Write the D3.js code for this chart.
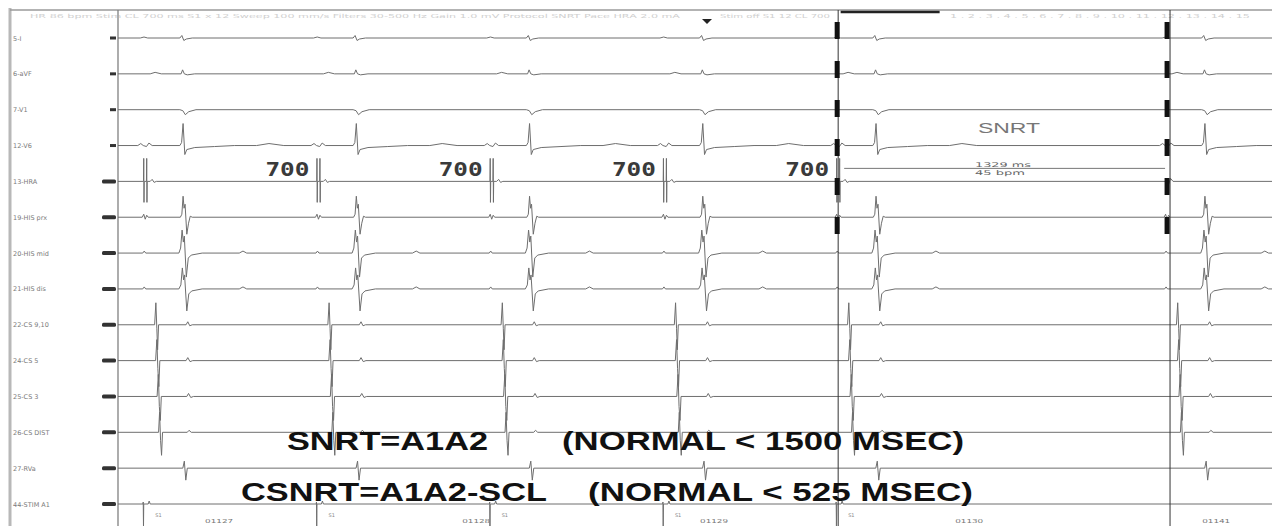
<!DOCTYPE html>
<html><head><meta charset="utf-8">
<script src="https://cdn.jsdelivr.net/npm/d3@7"></script>
<style>html,body{margin:0;padding:0;background:#fff;overflow:hidden}svg{display:block}</style>
</head><body>
<svg id="c" width="1272" height="526"></svg>
<script>
// ---------------- DATA ----------------
const channels = ["5-I","6-aVF","7-V1","12-V6","13-HRA","19-HIS prx","20-HIS mid","21-HIS dis",
  "22-CS 9,10","24-CS 5","25-CS 3","26-CS DIST","27-RVa","44-STIM A1"];
const stimTimes = [0, 700, 1400, 2100, 2800];      // ms, paced S1 beats
const sinusTimes = [4129];                          // ms, first recovery beat
const pacedIntervals = ["700","700","700","700"];
const snrtMs = 1329, snrtBpm = 45;
const counterTimes = [242, 1281, 2242, 3273, 4271];
const counterLabels = ["01127","01128","01129","01130","01141"];
const timeDomain = [-110, 4553];

// waveform templates: [ms after beat, amplitude]
const tplI    = [[-20,0],[-5,1],[10,0],[140,0],[148,2.5],[156,-2.5],[166,-1],[190,0]];
const tplAVF  = [[20,0],[40,1.5],[65,0],[145,0],[151,4],[158,0],[170,-1],[200,0]];
const tplV1   = [[140,0],[152,-1],[162,-5],[176,-2],[205,0]];
const tplV6   = [[-30,0],[-18,2],[-8,0],[5,-1],[15,2.5],[28,0],[140,0],[147,3],[153,22],[160,-9],[168,-4],[200,-2],[280,-1],[360,0],[450,0],[500,2],[560,0]];
const tplHRAp = [[-7,0],[-6,23],[-5,-21],[-4,0],[5,0],[6,23],[7,-21],[8,0],[20,0],[28,2],[36,-1],[45,0]];
const tplHRAs = [[-5,0],[5,-4],[14,3],[24,0]];
const tplHisP = [[-12,0],[-6,3],[0,-2],[6,2],[12,0],[142,0],[148,3],[153,21],[157,9],[161,13],[168,-17],[175,-6],[182,1],[190,0]];
const tplHisM = [[-10,0],[-4,2],[2,0],[136,0],[143,5],[149,23],[154,11],[158,17],[166,-24],[174,-5],[186,-2],[230,0],[380,0],[395,2],[410,0]];
const tplHisD = [[-10,0],[-4,2],[2,0],[136,0],[144,4],[150,21],[155,9],[159,14],[168,-22],[176,-5],[188,-2],[230,0],[380,0],[395,2],[410,0]];
const tplCS9  = [[38,0],[43,22],[47,-4],[50,-25],[54,0],[165,0],[172,3],[180,-1],[190,0]];
const tplCS5  = [[42,0],[47,21],[51,-8],[55,-26],[59,0],[165,0],[172,3],[181,-1],[192,0]];
const tplCS3  = [[48,0],[53,22],[57,-10],[61,-24],[65,0],[168,0],[175,3],[184,-1],[195,0]];
const tplCSd  = [[54,0],[58,20],[62,-8],[66,-23],[70,0],[170,0],[177,2],[186,0]];
const tplRVa  = [[152,0],[158,7],[164,-12],[170,0]];
const tplStim = [[-9,0],[-8,2],[-7,-23],[-6,0],[12,0],[16,3],[20,0]];
const tplNone = [];

const pacedTpl = [tplI,tplAVF,tplV1,tplV6,tplHRAp,tplHisP,tplHisM,tplHisD,tplCS9,tplCS5,tplCS3,tplCSd,tplRVa,tplStim];
const sinusTpl = [tplI,tplAVF,tplV1,tplV6,tplHRAs,tplHisP,tplHisM,tplHisD,tplCS9,tplCS5,tplCS3,tplCSd,tplRVa,tplNone];

// ---------------- DRAW ----------------
const svg = d3.select("#c");
const x = d3.scaleLinear().domain(timeDomain).range([118, 1272]);
const y = d3.scalePoint().domain(channels).range([38, 504]);
const amp = d3.scaleLinear().domain([-30, 30]).range([30, -30]);

// frame
svg.append("line").attr("x1",10).attr("x2",10).attr("y1",8).attr("y2",526).attr("stroke","#b8b8b8").attr("stroke-width",3);
svg.append("line").attr("x1",10).attr("x2",1272).attr("y1",10).attr("y2",10).attr("stroke","#9a9a9a").attr("stroke-width",1.5);
svg.append("line").attr("x1",118).attr("x2",118).attr("y1",10).attr("y2",526).attr("stroke","#808080").attr("stroke-width",1.3);

// header faint text
const hdr = svg.append("g").attr("opacity",0.55);
hdr.append("text").attr("x",30).attr("y",18).attr("font-family","DejaVu Sans").attr("font-size",5.5)
  .attr("fill","#aaa").attr("textLength",650).attr("lengthAdjust","spacingAndGlyphs")
  .text("HR 86 bpm   Stim CL 700 ms   S1 x 12   Sweep 100 mm/s   Filters 30-500 Hz   Gain 1.0 mV   Protocol SNRT   Pace HRA 2.0 mA");
hdr.append("text").attr("x",720).attr("y",18).attr("font-family","DejaVu Sans").attr("font-size",5.5)
  .attr("fill","#aaa").attr("textLength",110).attr("lengthAdjust","spacingAndGlyphs").text("Stim off  S1 12  CL 700");
hdr.append("text").attr("x",950).attr("y",18).attr("font-family","DejaVu Sans").attr("font-size",5.5)
  .attr("fill","#aaa").attr("textLength",300).attr("lengthAdjust","spacingAndGlyphs")
  .text("1 . 2 . 3 . 4 . 5 . 6 . 7 . 8 . 9 . 10 . 11 . 12 . 13 . 14 . 15");
svg.append("line").attr("x1",x(2810)).attr("x2",x(3210)).attr("y1",12).attr("y2",12).attr("stroke","#222").attr("stroke-width",2.5);
svg.append("path").attr("d",`M${x(2270)-5},19 L${x(2270)+5},19 L${x(2270)},24 Z`).attr("fill","#222");

// labels and markers
const lab = svg.append("g");
channels.forEach((c,i)=>{
  lab.append("text").attr("x",13).attr("y",y(c)+2.5).attr("font-family","DejaVu Sans").attr("font-size",6.5)
    .attr("fill","#7a7a7a").text(c);
  if (i<4) lab.append("rect").attr("x",110).attr("y",y(c)-1.5).attr("width",6).attr("height",3).attr("fill","#333");
  else lab.append("rect").attr("x",102).attr("y",y(c)-2).attr("width",14).attr("height",4).attr("rx",1.5).attr("fill","#333");
});

// build traces
const line = d3.line().x(d=>x(d[0])).y(d=>d[1]);
channels.forEach((c,i)=>{
  const base = y(c);
  let pts = [[timeDomain[0],0]];
  const beats = stimTimes.map(t=>[t,pacedTpl[i]]).concat(sinusTimes.map(t=>[t,sinusTpl[i]])).sort((a,b)=>a[0]-b[0]);
  beats.forEach(([t,tpl])=>{ tpl.forEach(p=>pts.push([t+p[0],p[1]])); });
  pts.push([timeDomain[1]+200,0]);
  svg.append("path").datum(pts.map(p=>[p[0], base+amp(p[1])]))
    .attr("d",line).attr("fill","none").attr("stroke","#6e6e6e").attr("stroke-width",1).attr("stroke-linejoin","round");
});

// thin full-height lines
[2800, 4141].forEach(t=>{
  svg.append("line").attr("x1",x(t)).attr("x2",x(t)).attr("y1",10).attr("y2",526).attr("stroke","#333").attr("stroke-width",1);
});
// thick dashed markers
[2796, 4129].forEach(t=>{
  svg.append("line").attr("x1",x(t)).attr("x2",x(t)).attr("y1",22).attr("y2",240)
    .attr("stroke","#111").attr("stroke-width",5).attr("stroke-dasharray","17 22");
});

// 700 interval labels
const yHRA = y("13-HRA");
pacedIntervals.forEach((lbl,i)=>{
  svg.append("text").attr("x",x(stimTimes[i+1])-9).attr("y",yHRA-5).attr("text-anchor","end")
    .attr("font-family","DejaVu Sans Mono").attr("font-weight","bold").attr("font-size",19)
    .attr("fill","#3a3a3a").attr("textLength",44).attr("lengthAdjust","spacingAndGlyphs").text(lbl);
});

// SNRT caliper
const t0 = stimTimes[stimTimes.length-1], t1 = sinusTimes[0];
svg.append("line").attr("x1",x(t0)+6).attr("x2",x(t1)-2).attr("y1",yHRA-13).attr("y2",yHRA-13).attr("stroke","#777").attr("stroke-width",1);
svg.append("text").attr("x",975).attr("y",yHRA-14.5).attr("font-family","DejaVu Sans").attr("font-size",6.5)
  .attr("fill","#666").attr("textLength",56).attr("lengthAdjust","spacingAndGlyphs").text(`${snrtMs} ms`);
svg.append("text").attr("x",975).attr("y",yHRA-6).attr("font-family","DejaVu Sans").attr("font-size",6.5)
  .attr("fill","#666").attr("textLength",50).attr("lengthAdjust","spacingAndGlyphs").text(`${snrtBpm} bpm`);
svg.append("text").attr("x",978).attr("y",133).attr("font-family","Liberation Sans").attr("font-size",15)
  .attr("fill","#777").attr("textLength",62).attr("lengthAdjust","spacingAndGlyphs").text("SNRT");

// stim channel small texts
const yS = y("44-STIM A1");
stimTimes.forEach(t=>{
  svg.append("text").attr("x",x(t)+10).attr("y",yS+13).attr("font-family","DejaVu Sans").attr("font-size",5).attr("fill","#888").text("S1");
});
counterTimes.forEach((t,i)=>{
  svg.append("text").attr("x",x(t)).attr("y",yS+19).attr("font-family","DejaVu Sans").attr("font-size",5.5)
    .attr("fill","#777").attr("textLength",28).attr("lengthAdjust","spacingAndGlyphs").text(counterLabels[i]);
});

// big annotation text
const big = [
  ["SNRT=A1A2", 287, 450, 201],
  ["(NORMAL < 1500 MSEC)", 562, 450, 402],
  ["CSNRT=A1A2-SCL", 241, 501, 306],
  ["(NORMAL < 525 MSEC)", 588, 501, 385]
];
big.forEach(([s,xx,yy,w])=>{
  svg.append("text").attr("x",xx).attr("y",yy).attr("font-family","Liberation Sans, Arial").attr("font-weight","bold")
    .attr("font-size",25).attr("fill","#111").attr("textLength",w).attr("lengthAdjust","spacingAndGlyphs").text(s);
});
</script>
</body></html>
